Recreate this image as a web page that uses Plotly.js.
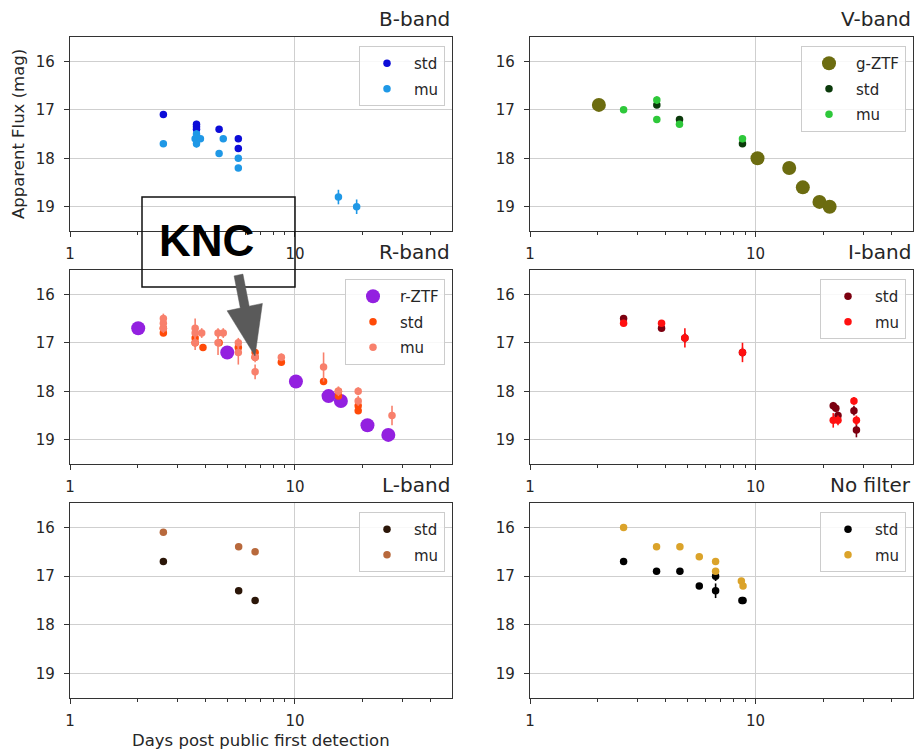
<!DOCTYPE html>
<html>
<head>
<meta charset="utf-8">
<script src="https://cdn.plot.ly/plotly-3.0.1.min.js"></script>
<style>html,body{margin:0;padding:0;background:#fff;}#chart{width:914px;height:750px;}</style>
</head>
<body>
<div id="chart"></div>
<script>
// ---------------- DATA ----------------
const panelTitles = ["B-band", "V-band", "R-band", "I-band", "L-band", "No filter"];
const xTickVals = [1, 10];
const xTickText = ["1", "10"];
const xMinorVals = [2, 3, 4, 5, 6, 7, 8, 9, 20, 30, 40];
const yTickVals = [16, 17, 18, 19];

// B-band
const bStdX = [2.6, 3.65, 3.65, 3.65, 4.6, 5.6, 5.6];
const bStdY = [17.1, 17.3, 17.35, 17.4, 17.4, 17.6, 17.8];
const bStdE = [0.05, 0.07, 0.05, 0.06, 0.06, 0.06, 0.06];
const bMuX = [2.6, 3.6, 3.65, 3.65, 3.8, 4.6, 4.8, 5.6, 5.6, 15.6, 18.8];
const bMuY = [17.7, 17.6, 17.5, 17.7, 17.6, 17.9, 17.6, 18.0, 18.2, 18.8, 19.0];
const bMuE = [0.05, 0.06, 0.08, 0.08, 0.05, 0.05, 0.05, 0.06, 0.06, 0.15, 0.15];

// V-band
const vZtfX = [2.02, 10.2, 14.1, 16.2, 19.2, 21.3];
const vZtfY = [16.9, 18.0, 18.2, 18.6, 18.9, 19.0];
const vZtfE = [0.05, 0.05, 0.05, 0.05, 0.05, 0.05];
const vStdX = [3.65, 4.6, 8.75];
const vStdY = [16.9, 17.2, 17.7];
const vStdE = [0.06, 0.06, 0.06];
const vMuX = [2.6, 3.65, 3.65, 4.6, 8.75];
const vMuY = [17.0, 16.8, 17.2, 17.3, 17.6];
const vMuE = [0.05, 0.08, 0.05, 0.05, 0.07];

// R-band
const rZtfX = [2.01, 5.0, 10.1, 14.1, 16.0, 21.0, 26.0];
const rZtfY = [16.7, 17.2, 17.8, 18.1, 18.2, 18.7, 18.9];
const rZtfE = [0.05, 0.05, 0.05, 0.1, 0.05, 0.05, 0.05];
const rStdX = [2.6, 2.6, 3.6, 3.6, 3.9, 4.6, 5.6, 6.65, 6.65, 8.7, 13.4, 15.6, 15.6, 19.1, 19.1];
const rStdY = [16.7, 16.8, 16.9, 17.0, 17.1, 17.0, 17.1, 17.2, 17.3, 17.4, 17.8, 18.0, 18.1, 18.3, 18.4];
const rStdE = [0.05, 0.05, 0.08, 0.08, 0.05, 0.05, 0.08, 0.06, 0.06, 0.05, 0.05, 0.05, 0.05, 0.05, 0.05];
const rMuX = [2.6, 2.6, 2.6, 3.6, 3.6, 3.6, 3.85, 4.55, 4.55, 4.8, 5.6, 5.6, 6.65, 6.65, 8.7, 13.4, 15.6, 19.1, 19.1, 27.0];
const rMuY = [16.5, 16.6, 16.7, 16.7, 16.8, 17.0, 16.8, 16.8, 17.0, 16.8, 17.0, 17.2, 17.3, 17.6, 17.3, 17.5, 18.0, 18.0, 18.2, 18.5];
const rMuE = [0.1, 0.1, 0.1, 0.2, 0.15, 0.15, 0.1, 0.1, 0.25, 0.1, 0.1, 0.25, 0.1, 0.15, 0.08, 0.3, 0.1, 0.08, 0.1, 0.2];

// I-band
const iStdX = [2.6, 3.83, 4.86, 8.75, 22.1, 22.7, 23.2, 27.3, 28.0];
const iStdY = [16.5, 16.7, 16.9, 17.2, 18.3, 18.35, 18.5, 18.4, 18.8];
const iStdE = [0.05, 0.05, 0.1, 0.1, 0.08, 0.08, 0.08, 0.1, 0.15];
const iMuX = [2.6, 3.83, 4.86, 8.75, 22.1, 23.2, 27.3, 28.0];
const iMuY = [16.6, 16.6, 16.9, 17.2, 18.6, 18.6, 18.2, 18.6];
const iMuE = [0.05, 0.05, 0.2, 0.2, 0.15, 0.1, 0.08, 0.1];

// L-band
const lStdX = [2.6, 5.62, 6.65];
const lStdY = [16.7, 17.3, 17.5];
const lStdE = [0.04, 0.04, 0.04];
const lMuX = [2.6, 5.62, 6.65];
const lMuY = [16.1, 16.4, 16.5];
const lMuE = [0.04, 0.04, 0.04];

// No filter
const nStdX = [2.6, 3.64, 4.62, 5.63, 6.65, 6.65, 8.7, 8.8];
const nStdY = [16.7, 16.9, 16.9, 17.2, 17.0, 17.3, 17.5, 17.5];
const nStdE = [0.04, 0.05, 0.05, 0.05, 0.1, 0.15, 0.05, 0.05];
const nMuX = [2.6, 3.64, 4.62, 5.63, 6.65, 6.65, 8.65, 8.8];
const nMuY = [16.0, 16.4, 16.4, 16.6, 16.7, 16.9, 17.1, 17.2];
const nMuE = [0.04, 0.05, 0.05, 0.05, 0.05, 0.05, 0.05, 0.05];

// ---------------- HELPERS ----------------
const W = 914, H = 750;
const PX = p => p / W;
const PY = p => 1 - p / H;

let gid = 0;
function tr(name, x, y, e, color, size, ax, lg) {
  gid++;
  return {
    type: 'scatter', mode: 'markers', name: name, x: x, y: y,
    error_y: {type: 'data', array: e, visible: true, color: color, thickness: 1.6, width: 0},
    marker: {color: color, size: size, line: {width: 0}},
    xaxis: 'x' + (ax === 1 ? '' : ax), yaxis: 'y' + (ax === 1 ? '' : ax),
    legend: lg === 1 ? 'legend' : 'legend' + lg,
    legendgroup: 'g' + gid,
    showlegend: true
  };
}

const SMALL = 7.5, BIG = 14;
const data = [
  tr('std', bStdX, bStdY, bStdE, '#0c0cd8', SMALL, 1, 1),
  tr('mu', bMuX, bMuY, bMuE, '#1f98e6', SMALL, 1, 1),
  tr('g-ZTF', vZtfX, vZtfY, vZtfE, '#6c6c10', BIG, 2, 2),
  tr('std', vStdX, vStdY, vStdE, '#0b3a0b', SMALL, 2, 2),
  tr('mu', vMuX, vMuY, vMuE, '#2ec83a', SMALL, 2, 2),
  tr('r-ZTF', rZtfX, rZtfY, rZtfE, '#9320e0', BIG, 3, 3),
  tr('std', rStdX, rStdY, rStdE, '#ff4a08', SMALL, 3, 3),
  tr('mu', rMuX, rMuY, rMuE, '#f8806c', SMALL, 3, 3),
  tr('std', iStdX, iStdY, iStdE, '#7c0010', SMALL, 4, 4),
  tr('mu', iMuX, iMuY, iMuE, '#ff1010', SMALL, 4, 4),
  tr('std', lStdX, lStdY, lStdE, '#2b1608', SMALL, 5, 5),
  tr('mu', lMuX, lMuY, lMuE, '#b8693c', SMALL, 5, 5),
  tr('std', nStdX, nStdY, nStdE, '#000000', SMALL, 6, 6),
  tr('mu', nMuX, nMuY, nMuE, '#dba32a', SMALL, 6, 6)
];

// panel pixel geometry
const colX = [[70, 452], [530, 913]];
const rowY = [[37, 231], [270, 464], [503, 698]];

const layout = {
  width: W, height: H,
  margin: {l: 0, r: 0, t: 0, b: 0},
  paper_bgcolor: '#fff', plot_bgcolor: '#fff',
  font: {family: 'DejaVu Sans', size: 15, color: '#262626'},
  showlegend: true,
  annotations: [], shapes: []
};

for (let i = 0; i < 6; i++) {
  const c = i % 2, r = Math.floor(i / 2);
  const n = i + 1, sfx = n === 1 ? '' : n;
  layout['xaxis' + sfx] = {
    type: 'log', range: [0, 1.698],
    domain: [PX(colX[c][0]), PX(colX[c][1])],
    anchor: 'y' + sfx,
    tickmode: 'array', tickvals: xTickVals, ticktext: xTickText,
    ticks: 'outside', ticklen: 5, tickwidth: 1, tickcolor: '#333',
    minor: {tickmode: 'array', tickvals: xMinorVals, ticks: 'outside', ticklen: 3, tickwidth: 1, tickcolor: '#333', showgrid: false},
    showgrid: true, gridcolor: '#cfcfcf', gridwidth: 1,
    showline: true, mirror: true, linecolor: '#333', linewidth: 1.2,
    zeroline: false, ticklabelstandoff: 4,
    tickfont: {size: 15, color: '#262626'}
  };
  layout['yaxis' + sfx] = {
    range: [19.5, 15.5],
    domain: [PY(rowY[r][1]), PY(rowY[r][0])],
    anchor: 'x' + sfx,
    tickmode: 'array', tickvals: yTickVals,
    ticks: 'outside', ticklen: 5, tickwidth: 1, tickcolor: '#333',
    showgrid: true, gridcolor: '#cfcfcf', gridwidth: 1,
    showline: true, mirror: true, linecolor: '#333', linewidth: 1.2,
    zeroline: false, ticklabelstandoff: 6,
    tickfont: {size: 15, color: '#262626'}
  };
  layout[n === 1 ? 'legend' : 'legend' + n] = {
    x: PX(colX[c][1] - 7), xanchor: 'right',
    y: PY(rowY[r][0] + 9), yanchor: 'top',
    bgcolor: 'rgba(255,255,255,0.85)', bordercolor: '#cccccc', borderwidth: 1,
    font: {family: 'DejaVu Sans', size: 15, color: '#262626'},
    itemwidth: 44, traceorder: 'grouped', tracegroupgap: 3
  };
  layout.annotations.push({
    text: panelTitles[i], xref: 'paper', yref: 'paper',
    x: PX(colX[c][1]), xanchor: 'right',
    y: PY(rowY[r][0] - 4), yanchor: 'bottom',
    showarrow: false, font: {family: 'DejaVu Sans', size: 20, color: '#262626'}
  });
}

// axis titles
layout.annotations.push({
  text: 'Apparent Flux (mag)', xref: 'paper', yref: 'paper',
  x: PX(19), y: PY(134), xanchor: 'center', yanchor: 'middle',
  textangle: -90, showarrow: false,
  font: {family: 'DejaVu Sans', size: 16.5, color: '#262626'}
});
layout.annotations.push({
  text: 'Days post public first detection', xref: 'paper', yref: 'paper',
  x: PX(261), y: PY(740), xanchor: 'center', yanchor: 'middle',
  showarrow: false,
  font: {family: 'DejaVu Sans', size: 16.5, color: '#262626'}
});

// KNC label box
layout.annotations.push({
  text: '<b>KNC</b>', xref: 'paper', yref: 'paper',
  x: PX(206), y: PY(240), xanchor: 'center', yanchor: 'middle',
  showarrow: false,
  font: {family: 'Liberation Sans', size: 44, color: '#000'}
});
layout.shapes.push({
  type: 'rect', xref: 'paper', yref: 'paper',
  x0: PX(142), x1: PX(295), y0: PY(197), y1: PY(287),
  line: {color: '#111', width: 1.5}, fillcolor: 'rgba(0,0,0,0)', layer: 'above'
});
// arrow polygon
const arrowPts = [[242.9, 274.1], [249.2, 306.2], [262.4, 303.4], [255, 356], [227.1, 310.8], [240.3, 308.0], [234.1, 275.9]];
const pth = arrowPts.map((p, k) => (k === 0 ? 'M' : 'L') + PX(p[0]).toFixed(5) + ',' + PY(p[1]).toFixed(5)).join(' ') + ' Z';
layout.shapes.push({
  type: 'path', xref: 'paper', yref: 'paper', path: pth,
  fillcolor: '#5a5a5a', line: {color: '#5a5a5a', width: 0.5}, layer: 'above'
});

Plotly.newPlot('chart', data, layout, {displayModeBar: false, staticPlot: true});
</script>
</body>
</html>
